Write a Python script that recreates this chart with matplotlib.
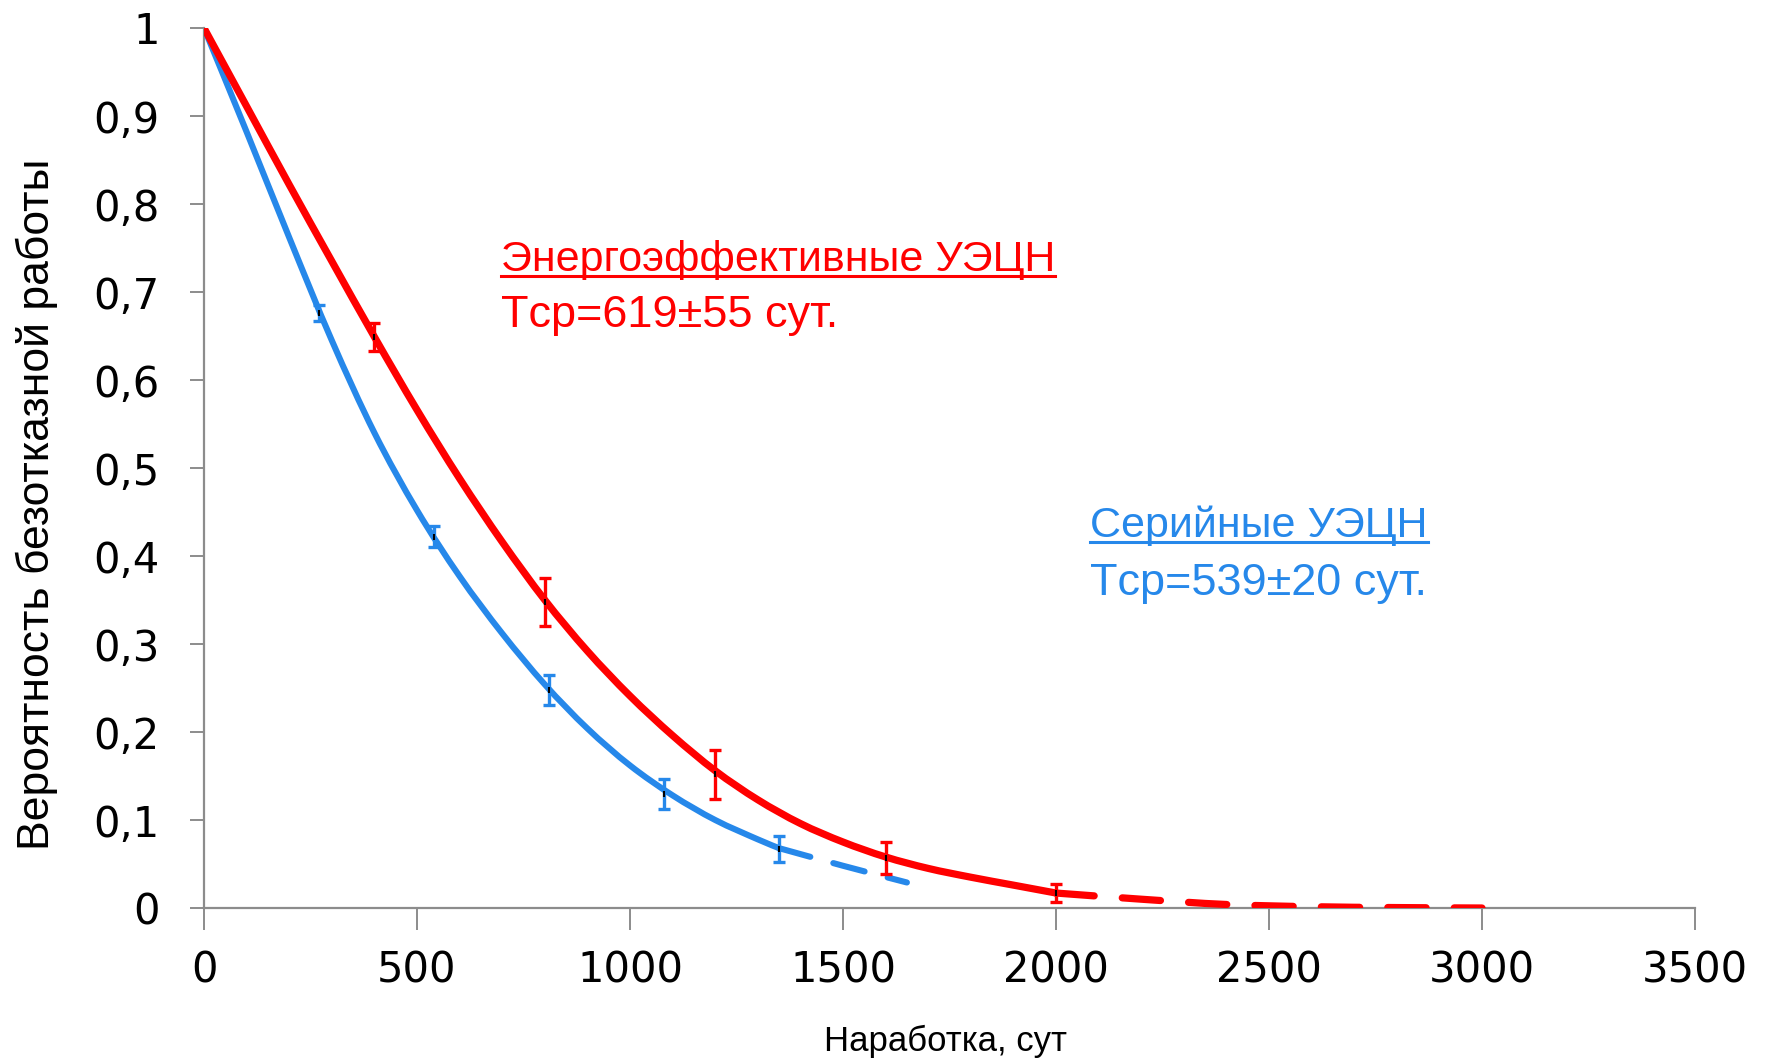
import matplotlib
matplotlib.use("Agg")
import numpy as np
import matplotlib.pyplot as plt
from matplotlib.lines import Line2D
from matplotlib.path import Path
from matplotlib.patches import PathPatch

# fitted survival curves
red_x = [0, 100, 200, 300, 400, 500, 600, 700, 800, 900, 1000, 1100, 1200,
         1300, 1400, 1500, 1600, 1700, 1800, 1900, 2000]
red_y = [1.0, 0.911, 0.822, 0.735, 0.649, 0.566, 0.488, 0.416, 0.350, 0.292,
         0.241, 0.196, 0.156, 0.123, 0.096, 0.075, 0.058, 0.045, 0.035, 0.026, 0.017]
red_dash_x = [2000, 2200, 2400, 2600, 2800, 3000]
red_dash_y = [0.017, 0.010, 0.004, 0.0015, 0.0005, 0.0]

blue_x = [0, 100, 200, 300, 400, 500, 600, 700, 800, 900, 1000, 1100, 1200, 1300, 1350]
blue_y = [1.0, 0.882, 0.762, 0.645, 0.540, 0.452, 0.377, 0.312, 0.254, 0.204,
          0.162, 0.128, 0.100, 0.078, 0.068]
blue_dash_x = [1350, 1500, 1650]
blue_dash_y = [0.068, 0.048, 0.029]

# points with error bars
red_pts_x = [400, 800, 1200, 1600, 2000]
red_pts_y = [0.649, 0.348, 0.152, 0.057, 0.017]
red_err = [0.016, 0.027, 0.028, 0.018, 0.010]
blue_pts_x = [270, 540, 810, 1080, 1350]
blue_pts_y = [0.676, 0.422, 0.248, 0.130, 0.067]
blue_err = [0.009, 0.012, 0.017, 0.017, 0.015]

x_ticks = [0, 500, 1000, 1500, 2000, 2500, 3000, 3500]
y_ticks = [0, 0.1, 0.2, 0.3, 0.4, 0.5, 0.6, 0.7, 0.8, 0.9, 1]
y_tick_labels = ["0", "0,1", "0,2", "0,3", "0,4", "0,5", "0,6", "0,7", "0,8", "0,9", "1"]

RED = "#FF0000"
BLUE = "#2688EA"
GREY = "#8C8C8C"
W, H = 1772, 1062


def smooth_path(xs, ys):
    # Excel-like smoothed line: Catmull-Rom segments as cubic Bezier curves
    p = np.column_stack([xs, ys]).astype(float)
    verts = [p[0]]
    codes = [Path.MOVETO]
    for i in range(len(p) - 1):
        p0 = p[i - 1] if i > 0 else p[i]
        p1, p2 = p[i], p[i + 1]
        p3 = p[i + 2] if i + 2 < len(p) else p[i + 1]
        verts += [p1 + (p2 - p0) / 6, p2 - (p3 - p1) / 6, p2]
        codes += [Path.CURVE4] * 3
    return Path(verts, codes)


def curve(ax, xs, ys, color, lw, dashed=False, z=3):
    ls = (0, (5.3, 3.9)) if dashed else "-"
    ax.add_patch(PathPatch(smooth_path(xs, ys), fill=False, edgecolor=color,
                           lw=lw, linestyle=ls, capstyle="round",
                           joinstyle="round", zorder=z))


fig = plt.figure(figsize=(W / 100, H / 100), dpi=100)
ax = fig.add_axes([204 / W, 1 - 908 / H, (1695 - 204) / W, (908 - 28) / H])

curve(ax, blue_x, blue_y, BLUE, 4.4)
curve(ax, blue_dash_x, blue_dash_y, BLUE, 4.4, dashed=True)
curve(ax, red_x, red_y, RED, 5.2, z=4)
curve(ax, red_dash_x, red_dash_y, RED, 5.2, dashed=True, z=4)

for px, py, pe, col in [(blue_pts_x, blue_pts_y, blue_err, BLUE),
                        (red_pts_x, red_pts_y, red_err, RED)]:
    ax.errorbar(px, py, yerr=pe, fmt="none", ecolor=col,
                elinewidth=2.4, capsize=4.5, capthick=2.4, zorder=5)
    ax.plot(px, py, ls="none", marker="|", ms=4, mew=1.5, color="black", zorder=6)

ax.set_xlim(0, 3500)
ax.set_ylim(0, 1)
ax.set_xticks(x_ticks)
ax.set_yticks(y_ticks)
ax.set_yticklabels(y_tick_labels)
for s in ["top", "right"]:
    ax.spines[s].set_visible(False)
for s in ["left", "bottom"]:
    ax.spines[s].set_color(GREY)
    ax.spines[s].set_linewidth(1.6)
ax.tick_params(axis="y", direction="out", length=10, width=1.4, color=GREY,
               pad=22, labelsize=30)
ax.tick_params(axis="x", direction="out", length=16, width=1.4, color=GREY,
               pad=14, labelsize=30)
for lab in ax.get_xticklabels() + ax.get_yticklabels():
    lab.set_family("DejaVu Sans")

lab_font = ["Liberation Sans", "DejaVu Sans"]
fig.text(945 / W, 1 - 1041 / H, "Наработка, сут", family=lab_font, fontsize=25,
         ha="center", va="center")
fig.text(37 / W, 1 - 504 / H, "Вероятность безотказной работы", family=lab_font,
         fontsize=32, rotation=90, ha="center", va="center")

# annotations with underlined titles
notes = [
    (501, 271, 327, "Энергоэффективные УЭЦН", "Tср=619±55 сут.", RED),
    (1090, 537, 595, "Серийные УЭЦН", "Tср=539±20 сут.", BLUE),
]
fig.canvas.draw()
r = fig.canvas.get_renderer()
for x, y1, y2, title, sub, col in notes:
    t = fig.text(x / W, 1 - y1 / H, title, family="Liberation Sans",
                 fontsize=31, color=col, va="baseline")
    fig.text(x / W, 1 - y2 / H, sub, family="Liberation Sans",
             fontsize=32.5, color=col, va="baseline")
    bb = t.get_window_extent(renderer=r)
    uy = 1 - (y1 + 5) / H
    fig.add_artist(Line2D([bb.x0 / W, bb.x1 / W], [uy, uy], color=col, lw=2.2,
                          transform=fig.transFigure))

fig.savefig("out.png", dpi=100)
